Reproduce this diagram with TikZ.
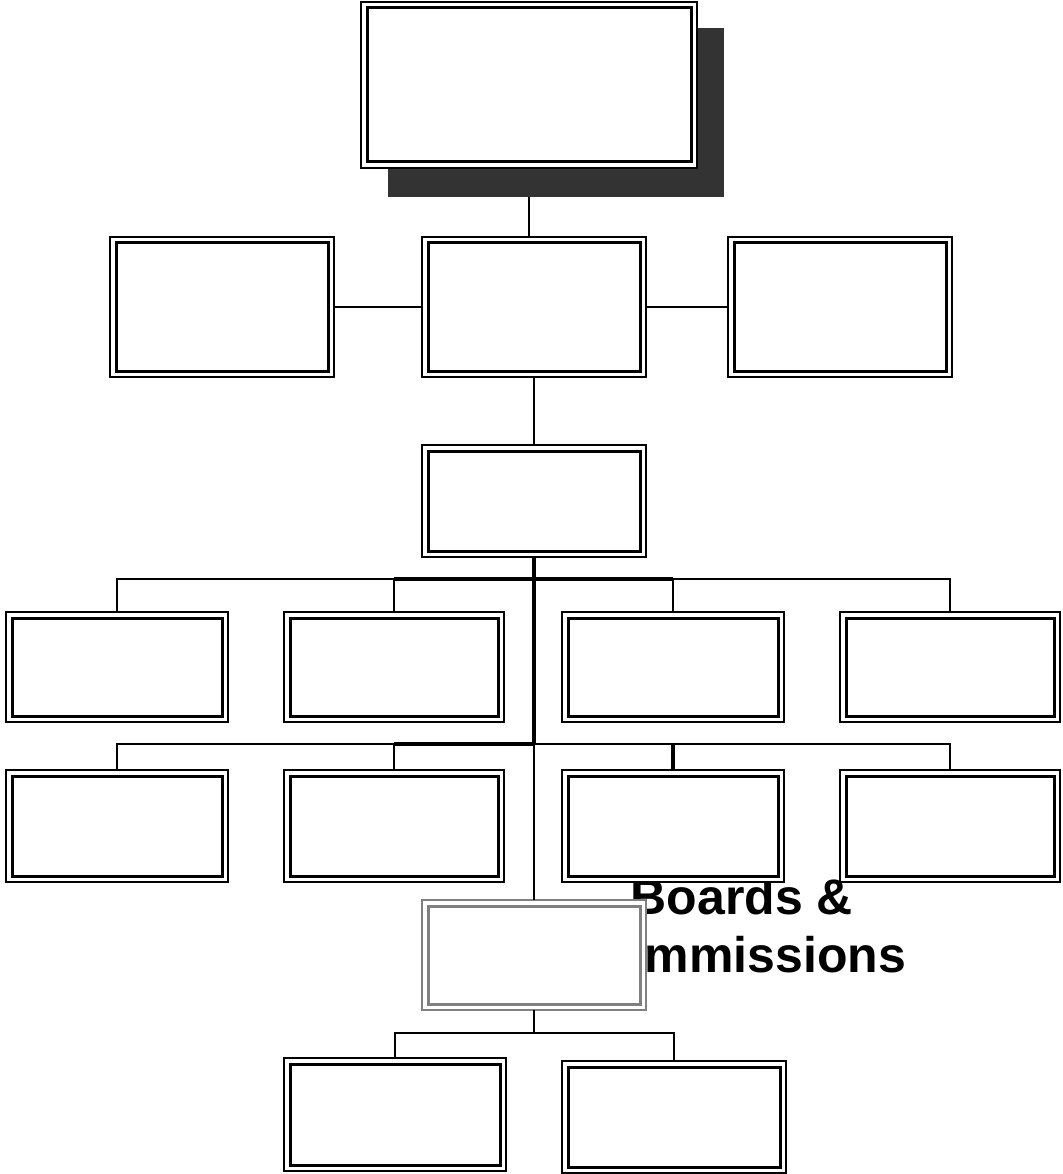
\documentclass[tikz,border=0pt]{standalone}
\usepackage{fontspec}
\setmainfont{Liberation Sans}
\definecolor{shadowc}{HTML}{333333}
\definecolor{grayc}{HTML}{808080}
\tikzset{
  obox/.style={rectangle, draw, fill=white, line width=1.8pt, inner sep=0pt, outer sep=0pt},
  shadowbox/.style={rectangle, fill=shadowc, inner sep=0pt, outer sep=0pt, minimum width=336pt, minimum height=169pt},
  iline/.style={line width=3pt},
  link/.style={line width=2pt},
  heavy/.style={line width=3.4pt},
  lbl/.style={font=\fontsize{50}{58}\selectfont\bfseries, align=center, inner sep=0pt}
}
\newcommand\orgbox[6][black]{%
  \node[obox, draw=#1, minimum width={(#5-#3)*1pt}, minimum height={(#6-#4)*1pt}] (#2) at ({(#3+#5)/2},{(#4+#6)/2}) {};
  \draw[iline, draw=#1] ([shift={(6,6)}]#2.north west) rectangle ([shift={(-6,-6)}]#2.south east);
}
\begin{document}
\begin{tikzpicture}[x=1pt,y=-1pt]
\useasboundingbox (0,0) rectangle (1062,1174);
% label behind boxes
\node[lbl, anchor=base] (bclabel) at (742,972) {Boards \&\\Commissions};
% shadow of the top box
\node[shadowbox] (sh) at (556,112.5) {};
% boxes
\orgbox{top}{361}{2}{697}{168}
\orgbox{l2}{110}{237}{334}{377}
\orgbox{c2}{422}{237}{646}{377}
\orgbox{r2}{728}{237}{952}{377}
\orgbox{c3}{422}{445}{646}{557}
\orgbox{d1}{6}{612}{228}{722}
\orgbox{d2}{284}{612}{504}{722}
\orgbox{d3}{562}{612}{784}{722}
\orgbox{d4}{840}{612}{1060}{722}
\orgbox{e1}{6}{770}{228}{882}
\orgbox{e2}{284}{770}{504}{882}
\orgbox{e3}{562}{770}{784}{882}
\orgbox{e4}{840}{770}{1060}{882}
\orgbox[grayc]{bc}{422}{900}{646}{1010}
\orgbox{f1}{284}{1058}{506}{1171}
\orgbox{f2}{562}{1061}{786}{1173}
% connectors
\coordinate (b4) at (534,579);
\coordinate (b5) at (534,744);
\coordinate (b6) at (534,1033);
\draw[link] (sh.south -| top.south) -- (c2.north -| top.south);
\draw[link] (l2.east) -- (c2.west);
\draw[link] (c2.east) -- (r2.west);
\draw[link] (c2.south) -- (c3.north);
\draw[link] (d1.north) |- (b4) -| (d4.north);
\draw[link] (d2.north) -- (d2.north |- b4);
\draw[link] (d3.north) -- (d3.north |- b4);
\draw[heavy] (d2.north |- b4) -- (d3.north |- b4);
\draw[heavy] (c3.south) -- (b5);
\draw[link] (e1.north) |- (b5) -| (e4.north);
\draw[link] (e2.north) -- (e2.north |- b5);
\draw[heavy] (e2.north |- b5) -- (b5);
\draw[heavy] (e3.north) -- (e3.north |- b5);
\draw[link] (b5) -- (bc.north);
\draw[link] (bc.south) -- (b6);
\draw[link] (f1.north) |- (b6) -| (f2.north);
\end{tikzpicture}
\end{document}
